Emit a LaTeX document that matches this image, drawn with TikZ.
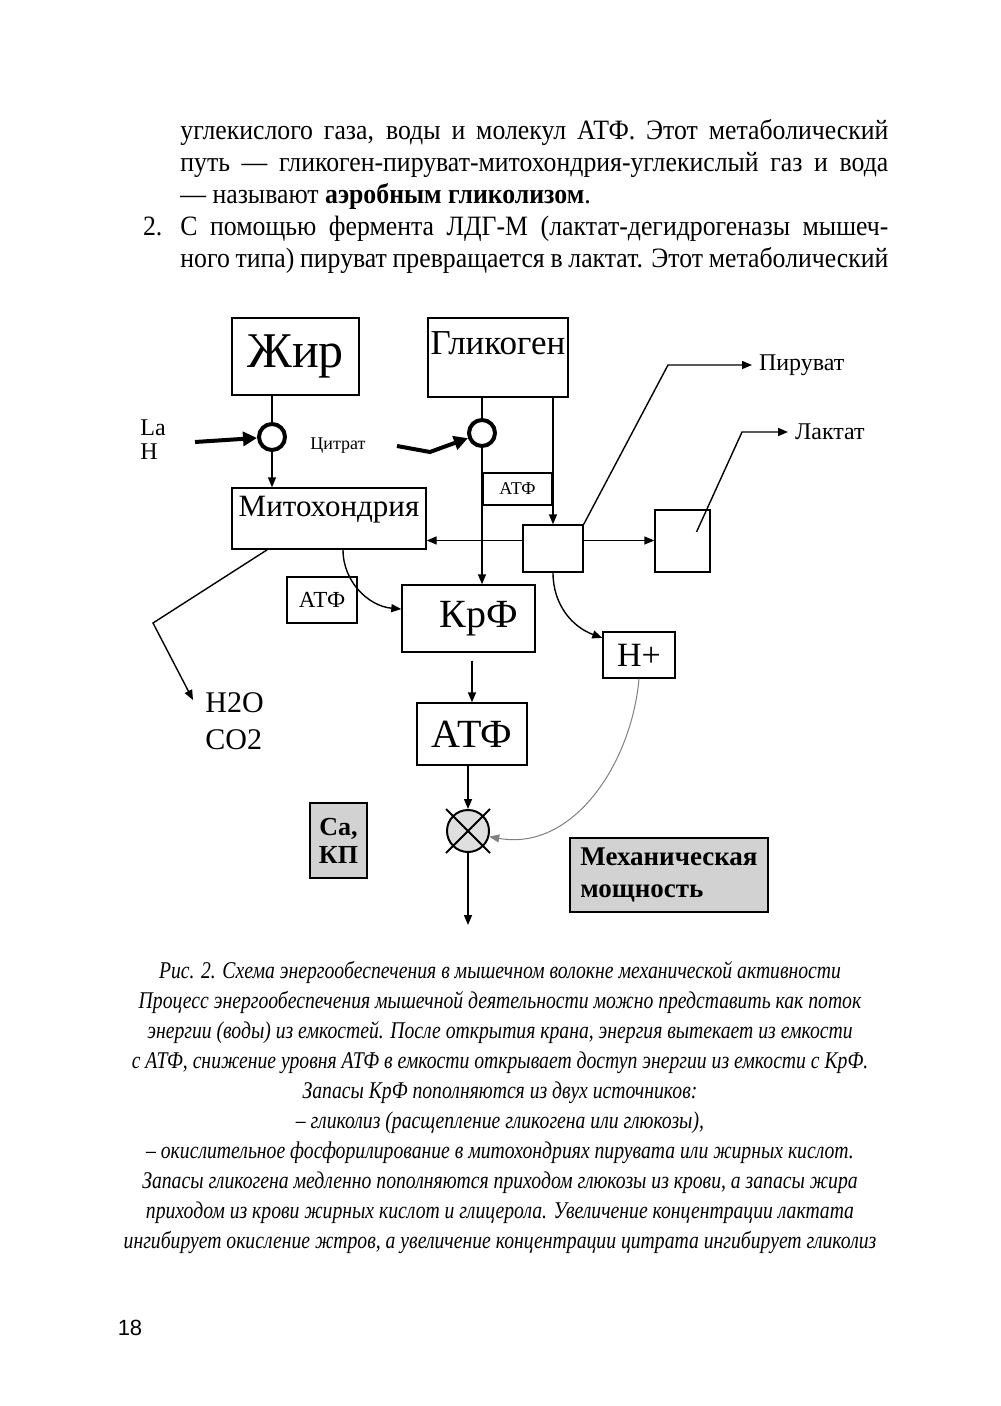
\documentclass[tikz,border=0pt]{standalone}
\usepackage{fontspec}
\setmainfont{Liberation Serif}
\setsansfont{Liberation Sans}
\newfontfamily\narrowserif[FakeStretch=0.92]{Liberation Serif}
\newfontfamily\captionserif[FakeStretch=0.82]{Liberation Serif}
\usetikzlibrary{arrows.meta,positioning,calc}

\begin{document}
\begin{tikzpicture}[x=0.5pt,y=-0.5pt,>={Triangle[length=5pt,width=4pt]},
  box/.style={draw,line width=0.7pt,inner sep=0pt,align=center},
  ring/.style={circle,draw,line width=2pt,minimum size=13pt,inner sep=0pt},
  flow/.style={->,line width=0.7pt},
  bold flow/.style={-{Triangle[length=7pt,width=7pt]},line width=2pt},
  shaded/.style={box,fill=gray!35,font=\bfseries}]
\fill[white] (0,0) rectangle (1000,1406);
\useasboundingbox (0,0) rectangle (1000,1406);

\node (intro) [anchor=north west,inner sep=0pt,align=left,font=\narrowserif\fontsize{14}{16}\selectfont] at (180,119) {%
\makebox[354pt][s]{углекислого газа, воды и молекул АТФ. Этот метаболический}\\
\makebox[354pt][s]{путь — гликоген-пируват-митохондрия-углекислый газ и вода}\\
— называют \textbf{аэробным гликолизом}.\\
\llap{2.\hspace{9pt}}\makebox[354pt][s]{С помощью фермента ЛДГ-М (лактат-дегидрогеназы мышеч-}\\
\makebox[354pt][s]{ного типа) пируват превращается в лактат. Этот метаболический}};

\node (zhir) [box,minimum width=63.5pt,minimum height=38.5pt,font=\fontsize{25}{25}\selectfont] at (295.5,356.5) {Жир};
\node (glik) [box,minimum width=70pt,text height=15.5pt,text depth=18pt,inner ysep=3pt,font=\fontsize{17.5}{17.5}\selectfont] at (498,357.5) {Гликоген};
\node (ringL) [ring] at (272,437) {};
\node (ringR) [ring] at (482,433) {};
\node (mito) [box,minimum width=97pt,text height=11pt,text depth=13.5pt,inner ysep=3pt,font=\fontsize{15.5}{15.5}\selectfont] at (329,518.5) {Митохондрия};
\node (atfTop) [box,minimum width=34.5pt,minimum height=16pt,font=\fontsize{9}{9}\selectfont] at (517.5,489) {АТФ};
\node (hub) [box,minimum width=30pt,minimum height=23.5pt] at (553,548.5) {};
\node (lacBox) [box,minimum width=27.5pt,minimum height=31pt] at (682.5,541) {};
\node (atfLeft) [box,minimum width=35pt,minimum height=23pt,font=\fontsize{11.5}{11.5}\selectfont] at (322,600) {АТФ};
\node (krf) [box,minimum width=66.5pt,minimum height=33.5pt,font=\fontsize{20}{20}\selectfont] at (468.5,618.5) {\hspace{10pt}КрФ};
\node (atf) [box,minimum width=55pt,minimum height=31pt,font=\fontsize{20}{20}\selectfont] at (472,734) {АТФ};
\node (hplus) [box,minimum width=36pt,minimum height=23pt,font=\fontsize{17}{17}\selectfont] at (639,655) {H+};
\node (tap) [circle,draw,line width=1pt,fill=gray!25,minimum size=21pt,inner sep=0pt] at (468,831) {};
\node (cakp) [shaded,minimum width=28.5pt,minimum height=37.5pt,font=\fontsize{13}{14}\selectfont\bfseries] at (338.5,840.5) {Ca,\\КП};
\node (power) [shaded,minimum width=99pt,minimum height=37pt,align=left,font=\fontsize{13.5}{16}\selectfont\bfseries] at (669,875) {Механическая\\мощность};

\node (laH) [anchor=west,inner sep=0pt,align=left,font=\fontsize{12}{12}\selectfont] at (140,440) {La\\H};
\node (citrat) [font=\fontsize{9}{9}\selectfont] at (338,446) {Цитрат};
\node (pyr) [anchor=west,font=\fontsize{12}{12}\selectfont] at (752,365) {Пируват};
\node (lac) [anchor=west,font=\fontsize{12}{12}\selectfont] at (788,432) {Лактат};
\node (water) [anchor=west,inner sep=0pt,align=left,font=\fontsize{15}{18.5}\selectfont] at (205,721) {H2O\\CO2};

\coordinate (laTail) at (195,442);
\coordinate (citTail) at (397,446);
\coordinate (hubL) at ($(hub.west)+(0,-8)$);
\coordinate (hubR) at ($(hub.east)+(0,-8)$);
\coordinate (mitoOut) at ($(mito.south)+(14,0)$);
\coordinate (mitoGas) at ($(mito.south west)+(36,0)$);
\coordinate (outEnd) at (468,925);

\draw[line width=0.7pt] (zhir.south -| ringL) -- (ringL);
\draw[line width=0.7pt] (glik.south -| ringR) -- (ringR);
\draw[bold flow] (laTail) -- (ringL);
\draw[bold flow] (citTail) -- (430,452) -- (ringR);
\draw[flow] (ringL) -- (ringL |- mito.north);
\draw[flow] (ringR) -- (ringR |- krf.north);
\draw[flow] (glik.south -| hub) -- (hub);
\draw[flow] (hubL) -- (hubL -| mito.east);
\draw[flow] (hubR) -- (hubR -| lacBox.west);
\draw[flow] (hub.north east) -- (668,365) -- (pyr);
\draw[flow] ($(lacBox.center)+(14,-9)$) -- (742,432) -- (lac);
\draw[flow] (mitoOut) to[out=-90,in=175] (krf.172);
\draw[flow] (mitoGas) -- (153,623) -- ($(water.north west)+(-12,8)$);
\draw[flow] (hub.south) to[out=-90,in=160] (hplus.155);
\draw[flow,shorten <=4pt] (krf.south -| atf) -- (atf.north);
\draw[flow] (atf.south -| tap) -- (tap);
\draw[->,line width=0.5pt,gray] (hplus.south) to[out=-95,in=-10] (tap.-15);
\draw[flow] (tap) -- (outEnd);
\draw[line width=1pt] ($(tap)+(-22,-22)$) -- ($(tap)+(22,22)$);
\draw[line width=1pt] ($(tap)+(22,-22)$) -- ($(tap)+(-22,22)$);

\node (caption) [align=center,font=\captionserif\fontsize{12}{15}\selectfont\itshape] at (500,1107) {%
Рис. 2. Схема энергообеспечения в мышечном волокне механической активности\\
Процесс энергообеспечения мышечной деятельности можно представить как поток\\
энергии (воды) из емкостей. После открытия крана, энергия вытекает из емкости\\
с АТФ, снижение уровня АТФ в емкости открывает доступ энергии из емкости с КрФ.\\
Запасы КрФ пополняются из двух источников:\\
– гликолиз (расщепление гликогена или глюкозы),\\
– окислительное фосфорилирование в митохондриях пирувата или жирных кислот.\\
Запасы гликогена медленно пополняются приходом глюкозы из крови, а запасы жира\\
приходом из крови жирных кислот и глицерола. Увеличение концентрации лактата\\
ингибирует окисление жтров, а увеличение концентрации цитрата ингибирует гликолиз};

\node (pageno) [font=\sffamily\fontsize{11}{11}\selectfont] at (130,1328) {18};
\end{tikzpicture}
\end{document}
